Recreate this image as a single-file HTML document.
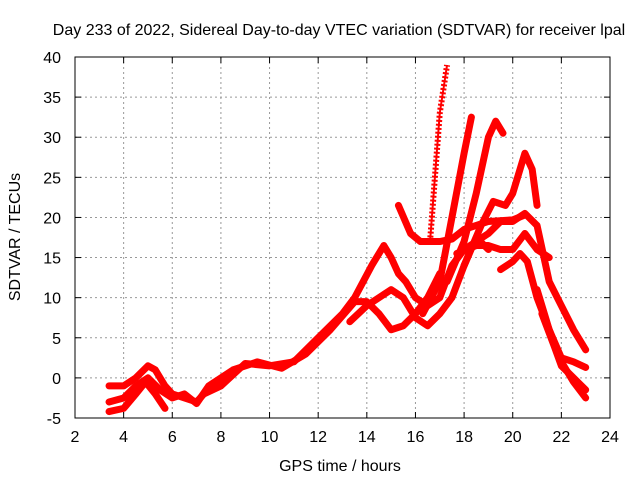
<!DOCTYPE html>
<html><head><meta charset="utf-8"><style>
body{margin:0;background:#fff}
svg{font-family:"Liberation Sans",sans-serif;font-size:16px}
</style></head><body>
<svg id="chart" width="640" height="480">
<text x="339" y="35" text-anchor="middle">Day 233 of 2022, Sidereal Day-to-day VTEC variation (SDTVAR) for receiver lpal</text>
<text x="340" y="471" text-anchor="middle">GPS time / hours</text>
<text transform="translate(20,237) rotate(-90)" text-anchor="middle">SDTVAR / TECUs</text>
<g id="grid"></g><g id="series"></g><g id="axes"></g>
</svg>
<script>
const xTicks=[2,4,6,8,10,12,14,16,18,20,22,24];
const yTicks=[-5,0,5,10,15,20,25,30,35,40];
const trackA=[[3.4,-1],[4,-1],[4.5,0],[5,1.5],[5.3,1],[5.7,-1],[6,-2],[6.5,-2.5],[7,-3],[7.3,-2],[8,-1],[9,1.8],[10,1.5],[11,2],[12,5],[13,8],[13.5,10],[14.2,14],[14.7,16.5],[15,15],[15.3,13],[15.6,12],[16,10],[16.5,9],[17,10],[17.5,14],[18,16],[18.5,17],[19,18],[19.5,19.5],[20,19.5],[20.5,20.5],[21,19],[21.5,12],[22,9],[22.5,6],[23,3.5]];
const trackB=[[3.4,-3],[4,-2.5],[4.5,-1],[5,0],[5.5,-1.5],[6,-2.5],[6.5,-2],[7,-3.2],[7.5,-1],[8.5,1],[9.5,2],[10.5,1.2],[11.5,3],[12.5,6],[13.5,9.5],[14,9.5],[14.5,8],[15,6],[15.5,6.5],[16,8],[16.5,10],[17,13]];
const trackC=[[3.4,-4.2],[4,-3.8],[4.5,-2],[4.9,-0.5],[5.3,-2],[5.7,-3.8]];
const trackD=[[13.3,7],[14,9],[15,11],[15.5,10],[16,7.5],[16.5,6.5],[17,8],[17.5,10],[18,14],[18.5,17.5],[19,16]];
const trackE=[[16.3,8],[17,12],[17.5,20],[18,28],[18.3,32.5]];
const trackF=[[17.3,12],[18,17],[18.5,23],[19,30],[19.3,32],[19.6,30.5]];
const trackG=[[18,14],[18.7,19],[19.2,22],[19.7,21.5],[20,23],[20.5,28],[20.8,26],[21,21.5]];
const trackH=[[15.3,21.5],[15.8,18],[16.2,17],[17,17],[17.5,17.3],[18,18.5],[19,19.5],[20,19.7],[20.5,20.3]];
const trackI=[[17.7,15.5],[18.5,16.5],[19,16.5],[19.5,16],[20,16],[20.5,18],[21,16],[21.5,15]];
const trackJ=[[19.5,13.5],[20,14.5],[20.3,15.5],[20.6,14.5],[21,10],[21.5,6],[22,2.5],[22.5,2],[23,1.3]];
const trackK=[[21,11],[21.5,6],[22,2],[22.5,-0.5],[23,-2.5]];
const trackL=[[21.2,8],[21.7,4],[22,1.5],[22.5,0],[23,-1.5]];
const spike=[[16.6,17],[16.8,25],[17,33],[17.3,39]];
const X=h=>75+(h-2)*(535/22), Y=v=>418-(v+5)*(361/45);
const NS="http://www.w3.org/2000/svg";
function mk(t,a,p){const e=document.createElementNS(NS,t);for(const k in a)e.setAttribute(k,a[k]);p.appendChild(e);return e;}
const grid=document.getElementById('grid'),axes=document.getElementById('axes'),ser=document.getElementById('series');
xTicks.forEach(t=>{
 if(t>2&&t<24){const l=mk('line',{x1:X(t),x2:X(t),y1:57,y2:418,stroke:'#999','stroke-dasharray':'2,3'},grid);
 
 }
 mk('line',{x1:X(t),x2:X(t),y1:418,y2:412,stroke:'#000'},axes);
 mk('line',{x1:X(t),x2:X(t),y1:57,y2:63,stroke:'#000'},axes);
 const tx=mk('text',{x:X(t),y:442,'text-anchor':'middle'},axes);tx.textContent=t;
 
 
});
yTicks.forEach(t=>{
 if(t>-5&&t<40){const l=mk('line',{x1:75,x2:610,y1:Y(t),y2:Y(t),stroke:'#999','stroke-dasharray':'2,3'},grid);
 
 }
 mk('line',{x1:75,x2:81,y1:Y(t),y2:Y(t),stroke:'#000'},axes);
 mk('line',{x1:604,x2:610,y1:Y(t),y2:Y(t),stroke:'#000'},axes);
 const tx=mk('text',{x:61,y:Y(t)+6,'text-anchor':'end'},axes);tx.textContent=t;
 
 
});
const fr=mk('rect',{x:75,y:57,width:535,height:361,fill:'none',stroke:'#000'},axes);


[trackA,trackB,trackC,trackD,trackE,trackF,trackG,trackH,trackI,trackJ,trackK,trackL].forEach(s=>{
 const p=mk('polyline',{points:s.map(d=>X(d[0])+','+Y(d[1])).join(' '),fill:'none',stroke:'#f00','stroke-width':7,'stroke-linejoin':'round','stroke-linecap':'round'},ser);
 
 
});
const sp=mk('polyline',{points:spike.map(d=>X(d[0])+','+Y(d[1])).join(' '),fill:'none',stroke:'#f00','stroke-width':6,'stroke-dasharray':'2,2'},ser);


const sp2=mk('polyline',{points:spike.map(d=>X(d[0])+','+Y(d[1])).join(' '),fill:'none',stroke:'#f00','stroke-width':2},ser);


</script>
</body></html>
